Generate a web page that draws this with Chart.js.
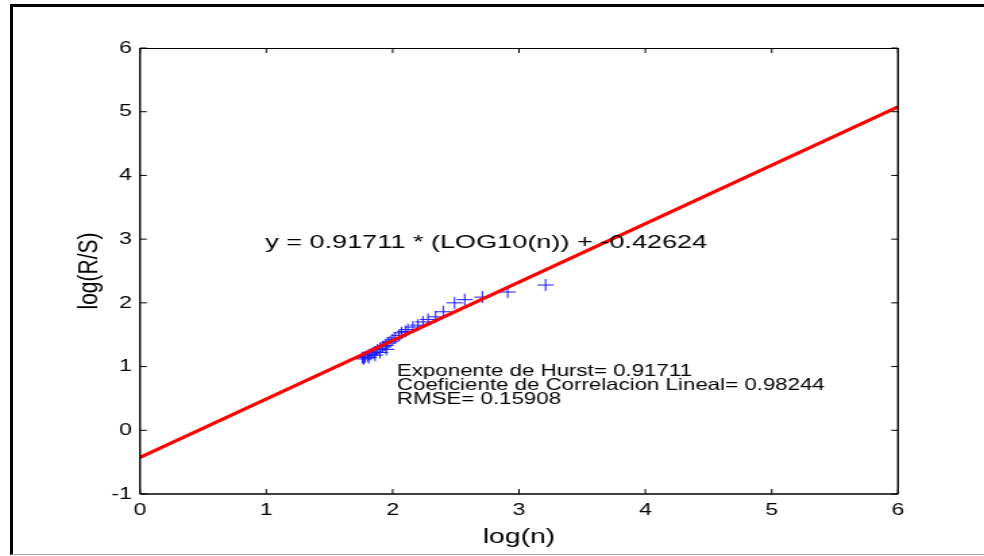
<!DOCTYPE html>
<html>
<head>
<meta charset="utf-8">
<script src="https://cdn.jsdelivr.net/npm/chart.js@4"></script>
<style>
  body { margin: 0; background: #fff; overflow: hidden; }
  #frame {
    position: absolute; left: 10px; top: 4px; width: 974px; height: 551px;
    box-sizing: border-box;
    border-top: 3px solid #000; border-left: 3px solid #000; border-bottom: 1px solid #aaa;
  }
  #wrap {
    position: absolute; left: 0; top: 0; width: 729px; height: 556px;
    transform: scaleX(1.3498); transform-origin: 0 0;
  }
</style>
</head>
<body>
<div id="frame"></div>
<div id="wrap"><canvas id="rs"></canvas></div>
<script>
// log(n) / log(R/S) pairs of the rescaled range analysis
const logN = [1.76, 1.77, 1.78, 1.80, 1.81, 1.82, 1.84, 1.86, 1.86, 1.88, 1.90, 1.90,
  1.92, 1.94, 1.95, 1.96, 1.98, 2.00, 2.02, 2.05, 2.07, 2.10, 2.12, 2.16, 2.20,
  2.24, 2.28, 2.34, 2.40, 2.49, 2.57, 2.71, 2.91, 3.21];
const logRS = [1.14, 1.12, 1.15, 1.17, 1.14, 1.19, 1.21, 1.23, 1.18, 1.26, 1.28, 1.22,
  1.31, 1.33, 1.27, 1.37, 1.39, 1.42, 1.45, 1.49, 1.53, 1.55, 1.58, 1.62, 1.65,
  1.70, 1.74, 1.78, 1.86, 2.00, 2.05, 2.09, 2.17, 2.28];

// least squares fit
const fitSlope = 0.91711;
const fitIntercept = -0.42624;
const fitRange = [0, 6];

const xTicks = [0, 1, 2, 3, 4, 5, 6];
const yTicks = [-1, 0, 1, 2, 3, 4, 5, 6];

const equation = 'y = 0.91711 * (LOG10(n)) + -0.42624';
const statLines = [
  'Exponente de Hurst= 0.91711',
  'Coeficiente de Correlacion Lineal= 0.98244',
  'RMSE= 0.15908'
];

const points = logN.map((v, i) => ({ x: v, y: logRS[i] }));
const fitLine = fitRange.map(v => ({ x: v, y: fitSlope * v + fitIntercept }));

const FONT = '"Liberation Sans", Arial, sans-serif';

const axesBox = {
  id: 'axesBox',
  afterDatasetsDraw(chart) {
    const { ctx, chartArea: a, scales: { x, y } } = chart;
    ctx.save();
    ctx.strokeStyle = '#000';
    const seg = (x1, y1, x2, y2, w) => {
      ctx.lineWidth = w;
      ctx.beginPath();
      ctx.moveTo(x1, y1);
      ctx.lineTo(x2, y2);
      ctx.stroke();
    };
    seg(a.left, a.top + 0.5, a.right, a.top + 0.5, 1);
    seg(a.left, a.bottom, a.right, a.bottom, 1.6);
    seg(a.left, a.top, a.left, a.bottom, 1.4);
    seg(a.right, a.top, a.right, a.bottom, 1.4);
    // inward tick marks on all four sides
    xTicks.forEach(t => {
      const px = x.getPixelForValue(t);
      seg(px, a.bottom, px, a.bottom - 5, 1);
      seg(px, a.top, px, a.top + 5, 1);
    });
    yTicks.forEach(t => {
      const py = y.getPixelForValue(t);
      seg(a.left, py, a.left + 5, py, 1);
      seg(a.right, py, a.right - 5, py, 1);
    });

    ctx.fillStyle = '#000';
    ctx.textAlign = 'left';
    ctx.textBaseline = 'alphabetic';

    // fit equation
    ctx.save();
    ctx.font = '19px ' + FONT;
    ctx.translate(x.getPixelForValue(0.99), y.getPixelForValue(2.86));
    ctx.scale(1.056, 1);
    ctx.fillText(equation, 0, 0);
    ctx.restore();

    // fit statistics
    ctx.font = '16.5px ' + FONT;
    const sx = x.getPixelForValue(2.034);
    const sy = y.getPixelForValue(0.857);
    statLines.forEach((s, i) => ctx.fillText(s, sx, sy + i * 14));
    ctx.restore();
  }
};

new Chart(document.getElementById('rs'), {
  type: 'scatter',
  data: {
    datasets: [
      {
        data: fitLine,
        showLine: true,
        borderColor: '#ff0000',
        borderWidth: 3.2,
        pointRadius: 0,
        order: 0
      },
      {
        data: points,
        pointStyle: 'cross',
        pointRadius: 6,
        borderColor: '#1a1aff',
        borderWidth: 1,
        order: 1
      }
    ]
  },
  options: {
    responsive: true,
    maintainAspectRatio: false,
    animation: false,
    layout: { padding: { top: 48, right: 63.7, left: 0, bottom: 0 } },
    plugins: { legend: { display: false }, tooltip: { enabled: false } },
    scales: {
      x: {
        type: 'linear',
        min: 0,
        max: 6,
        afterBuildTicks: s => { s.ticks = xTicks.map(v => ({ value: v })); },
        afterFit: s => { s.height = 62; },
        grid: { display: false, drawTicks: false },
        border: { display: false },
        ticks: { padding: 6, color: '#000', font: { family: FONT, size: 17 } },
        title: {
          display: true,
          text: 'log(n)',
          color: '#000',
          font: { family: FONT, size: 21 },
          padding: { top: 0, bottom: 6 }
        }
      },
      y: {
        type: 'linear',
        min: -1,
        max: 6,
        afterBuildTicks: s => { s.ticks = yTicks.map(v => ({ value: v })); },
        afterFit: s => { s.width = 103.72; },
        grid: { display: false, drawTicks: false },
        border: { display: false },
        ticks: { padding: 6, color: '#000', font: { family: FONT, size: 17 } },
        title: {
          display: true,
          text: 'log(R/S)',
          color: '#000',
          font: { family: FONT, size: 21 },
          padding: { top: 54, bottom: 0 }
        }
      }
    }
  },
  plugins: [axesBox]
});
</script>
</body>
</html>
